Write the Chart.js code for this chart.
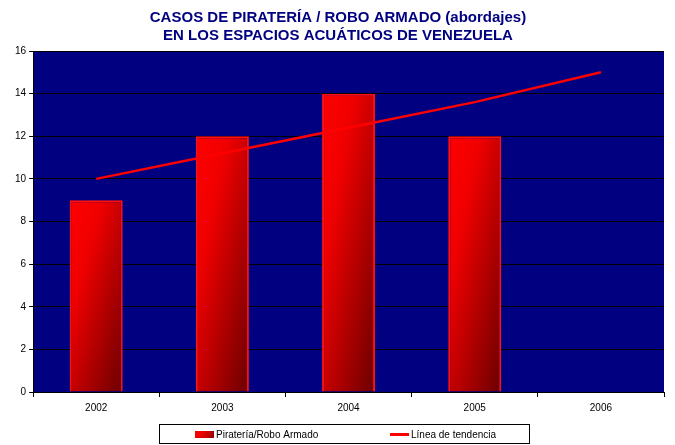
<!DOCTYPE html>
<html>
<head>
<meta charset="utf-8">
<script src="https://cdn.jsdelivr.net/npm/chart.js@4"></script>
<style>
  html, body { margin: 0; padding: 0; background: #ffffff; }
  #wrap { width: 675px; height: 445px; }
</style>
</head>
<body>
<div id="wrap"><canvas id="chart" width="675" height="445"></canvas></div>
<script>
const years = ['2002', '2003', '2004', '2005', '2006'];
const casos = [9, 12, 14, 12, null];
const tendencia = [10, 11.2, 12.4, 13.6, 15];
const titleLines = ['CASOS DE PIRATERÍA / ROBO ARMADO (abordajes)', 'EN LOS ESPACIOS ACUÁTICOS DE VENEZUELA'];
const legendNames = ['Piratería/Robo Armado', 'Línea de tendencia'];

const FONT = 'Liberation Sans, Arial, sans-serif';

// dark blue plot area, plus the framed legend under the axis
const plotBg = {
    id: 'plotBg',
    beforeDraw(chart) {
        const { ctx, chartArea: a } = chart;
        ctx.save();
        ctx.fillStyle = '#000080';
        ctx.fillRect(a.left, a.top, a.right - a.left, a.bottom - a.top);
        ctx.restore();
    },
    afterDraw(chart) {
        const ctx = chart.ctx;
        ctx.save();
        ctx.strokeStyle = '#000000';
        ctx.lineWidth = 1;
        ctx.strokeRect(159.5, 424.5, 370, 19);

        // bar swatch
        const g = ctx.createLinearGradient(195, 431, 214, 438);
        g.addColorStop(0, '#ff0000');
        g.addColorStop(0.5, '#e00000');
        g.addColorStop(1, '#900000');
        ctx.fillStyle = g;
        ctx.fillRect(195, 431, 19, 7);

        // line swatch
        ctx.strokeStyle = '#ff0000';
        ctx.lineWidth = 3;
        ctx.beginPath();
        ctx.moveTo(390, 434.5);
        ctx.lineTo(409, 434.5);
        ctx.stroke();

        ctx.fillStyle = '#000000';
        ctx.font = '10px ' + FONT;
        ctx.textBaseline = 'middle';
        ctx.fillText(legendNames[0], 216, 435);
        ctx.fillText(legendNames[1], 411, 435);
        ctx.restore();
    }
};

// diagonal shading: bright red top-left to dark red bottom-right
function barGradient(context) {
    const chart = context.chart;
    const { chartArea, scales } = chart;
    if (!chartArea || context.raw == null) return '#ff0000';
    const x = scales.x.getPixelForValue(context.dataIndex);
    const y = scales.y.getPixelForValue(context.raw);
    const b = scales.y.getPixelForValue(0);
    const w = 54, h = b - y;
    const x0 = x - w / 2;
    const k = 2 * w * h / (h * h + w * w);
    const g = chart.ctx.createLinearGradient(x0, y, x0 + h * k, y + w * k);
    g.addColorStop(0, '#ff0000');
    g.addColorStop(0.3, '#f00000');
    g.addColorStop(1, '#6a0000');
    return g;
}

const ctx = document.getElementById('chart');
new Chart(ctx, {
    data: {
        labels: years,
        datasets: [
            {
                type: 'line',
                label: legendNames[1],
                data: tendencia,
                borderColor: '#ff0000',
                backgroundColor: '#ff0000',
                borderWidth: 2.5,
                pointRadius: 0,
                tension: 0,
                order: 0
            },
            {
                type: 'bar',
                label: legendNames[0],
                data: casos,
                backgroundColor: barGradient,
                borderColor: '#ff1010',
                borderWidth: 2,
                barPercentage: 0.42,
                categoryPercentage: 1,
                order: 1
            }
        ]
    },
    options: {
        responsive: false,
        animation: false,
        layout: { padding: { left: 12, right: 11, top: 4, bottom: 26 } },
        plugins: {
            title: {
                display: true,
                text: titleLines,
                color: '#000080',
                font: { family: FONT, size: 15, weight: 'bold', lineHeight: 1.2 },
                padding: { top: 5, bottom: 6 }
            },
            legend: { display: false },
            tooltip: { enabled: false }
        },
        scales: {
            x: {
                grid: {
                    display: true,
                    offset: true,
                    drawOnChartArea: false,
                    color: '#000000',
                    tickLength: 5
                },
                border: { color: '#000000', width: 1 },
                ticks: {
                    color: '#000000',
                    font: { family: FONT, size: 10 },
                    padding: 5
                }
            },
            y: {
                min: 0,
                max: 16,
                ticks: {
                    stepSize: 2,
                    color: '#000000',
                    font: { family: FONT, size: 10 },
                    padding: 3
                },
                grid: {
                    color: '#000000',
                    tickLength: 4
                },
                border: { color: '#000000', width: 1 }
            }
        }
    },
    plugins: [plotBg]
});
</script>
</body>
</html>
